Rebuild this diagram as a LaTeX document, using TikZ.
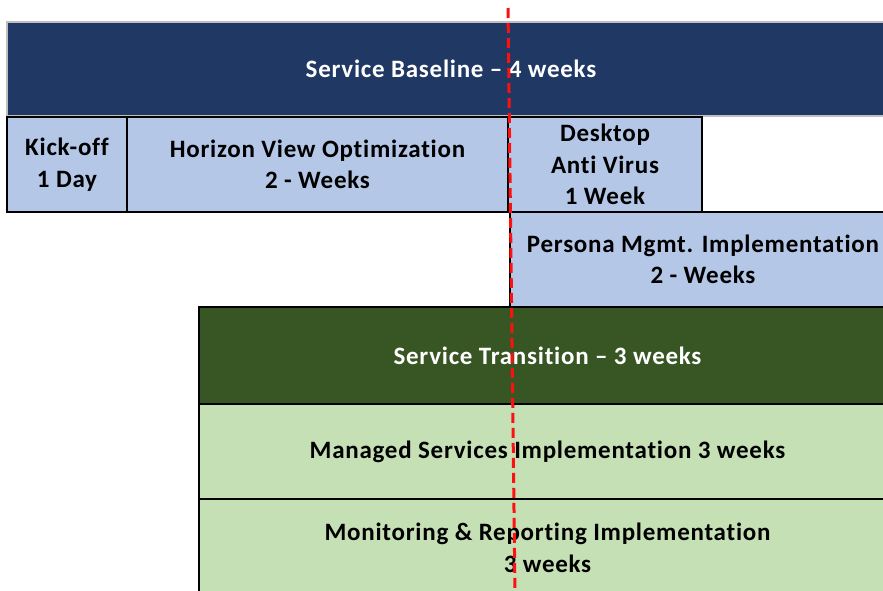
\documentclass[tikz,border=0pt]{standalone}
\usepackage{fontspec}
\setmainfont[Ligatures=NoCommon,LetterSpace=3]{Carlito}
\definecolor{dkblue}{HTML}{203864}
\definecolor{ltblue}{HTML}{B4C7E7}
\definecolor{dkgreen}{HTML}{375623}
\definecolor{ltgreen}{HTML}{C5E0B4}
\definecolor{redline}{HTML}{FF1010}
\begin{document}
\begin{tikzpicture}[x=1pt,y=-1pt,
  box/.style={anchor=north west,inner sep=0pt,outer sep=0pt,align=center,
    font=\bfseries\fontsize{25}{31.5}\selectfont},
  phase/.style={box,text=white},
  task/.style={box,draw=black,line width=1.5pt,text=black},
  milestone/.style={draw=redline,line width=3pt,dash pattern=on 10pt off 5pt}]
\useasboundingbox (0,0) rectangle (883,590);
\clip (0,0) rectangle (883,590);
\node[phase,fill=dkblue,draw=black!25,line width=1.5pt,minimum width=888pt,minimum height=94pt] (baseline) at (7,22) {Service Baseline – 4 weeks};
\node[task,fill=ltblue,minimum width=120pt,minimum height=95pt] (kick) at (7,117) {Kick-off\\1 Day};
\node[task,fill=ltblue,minimum width=381pt,minimum height=95pt] (horizon) at (127,117) {Horizon View Optimization\\2 - Weeks};
\node[task,fill=ltblue,minimum width=194pt,minimum height=95pt] (desktop) at (508,117) {Desktop\\Anti Virus\\1 Week};
\node[task,fill=ltblue,minimum width=386pt,minimum height=95pt] (persona) at (510,212) {Persona Mgmt. Implementation\\2 - Weeks};
\node[phase,fill=dkgreen,draw=black,line width=1.5pt,minimum width=697pt,minimum height=97pt] (transition) at (199,307) {Service Transition – 3 weeks};
\node[task,fill=ltgreen,minimum width=697pt,minimum height=95pt] (managed) at (199,404) {Managed Services Implementation 3 weeks};
\node[task,fill=ltgreen,minimum width=697pt,minimum height=98pt] (monitor) at (199,499) {Monitoring \& Reporting Implementation\\3 weeks};
\coordinate (rtop) at (508,8);
\coordinate (rbot) at (515,594);
\draw[milestone] (rtop) -- (rbot);
\end{tikzpicture}
\end{document}
